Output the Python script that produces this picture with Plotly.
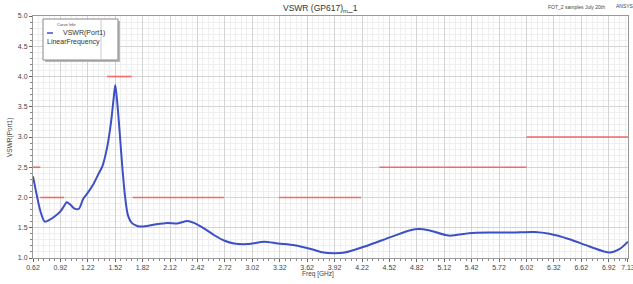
import plotly.graph_objects as go

# Measured VSWR curve
freq = [0.62, 0.66, 0.70, 0.75, 0.80, 0.86, 0.92, 0.96, 0.99, 1.03, 1.07, 1.12, 1.17, 1.22,
        1.28, 1.33, 1.38, 1.43, 1.47, 1.50, 1.52, 1.54, 1.57, 1.60, 1.63, 1.66, 1.70, 1.76,
        1.82, 1.94, 2.09, 2.20, 2.31, 2.38, 2.49, 2.60, 2.71, 2.82, 2.97, 3.15, 3.30, 3.48,
        3.66, 3.80, 3.92, 4.03, 4.25, 4.54, 4.75, 4.84, 4.95, 5.17, 5.39, 5.61, 5.86, 6.11,
        6.27, 6.49, 6.71, 6.93, 7.04, 7.13]
vswr = [2.35, 2.05, 1.78, 1.60, 1.63, 1.69, 1.77, 1.86, 1.92, 1.88, 1.82, 1.81, 1.98, 2.08,
        2.22, 2.37, 2.52, 2.82, 3.20, 3.60, 3.86, 3.60, 3.05, 2.45, 1.98, 1.70, 1.58, 1.53,
        1.52, 1.55, 1.58, 1.57, 1.61, 1.58, 1.49, 1.38, 1.29, 1.24, 1.23, 1.27, 1.24, 1.21,
        1.15, 1.09, 1.08, 1.09, 1.19, 1.35, 1.46, 1.48, 1.46, 1.37, 1.41, 1.42, 1.42, 1.43,
        1.40, 1.31, 1.19, 1.09, 1.15, 1.27]

# Spec limit segments
limit_start = [0.62, 0.70, 1.43, 1.71, 3.31, 4.41, 6.02]
limit_end = [0.70, 0.96, 1.70, 2.71, 4.21, 6.02, 7.13]
limit_value = [2.5, 2.0, 4.0, 2.0, 2.0, 2.5, 3.0]

# Axis ticks
x_tickvals = [0.62, 0.92, 1.22, 1.52, 1.82, 2.12, 2.42, 2.72, 3.02, 3.32, 3.62, 3.92, 4.22,
              4.52, 4.82, 5.12, 5.42, 5.72, 6.02, 6.32, 6.62, 6.92, 7.13]
x_ticktext = ["0.62", "0.92", "1.22", "1.52", "1.82", "2.12", "2.42", "2.72", "3.02", "3.32",
              "3.62", "3.92", "4.22", "4.52", "4.82", "5.12", "5.42", "5.72", "6.02", "6.32",
              "6.62", "6.92", "7.13"]
y_tickvals = [1.0, 1.5, 2.0, 2.5, 3.0, 3.5, 4.0, 4.5, 5.0]
y_ticktext = ["1.0", "1.5", "2.0", "2.5", "3.0", "3.5", "4.0", "4.5", "5.0"]

lx, ly = [], []
for s, e, v in zip(limit_start, limit_end, limit_value):
    lx += [s, e, None]
    ly += [v, v, None]

fig = go.Figure()
fig.add_trace(go.Scatter(x=lx, y=ly, mode="lines", line=dict(color="#f26a6a", width=1.6),
                         hoverinfo="skip", showlegend=False))
fig.add_trace(go.Scatter(x=freq, y=vswr, mode="lines", name="VSWR(Port1)",
                         line=dict(color="#3d50c6", width=2, shape="spline", smoothing=0.8),
                         showlegend=False))

W, H = 633, 284
L, R, T, B = 33, 5, 16, 26
pw, ph = W - L - R, H - T - B


def px(x):
    return (x - L) / pw


def py(y):
    return (H - B - y) / ph


font = "Liberation Sans, Arial, sans-serif"

fig.update_layout(
    width=W, height=H,
    margin=dict(l=L, r=R, t=T, b=B, autoexpand=False),
    paper_bgcolor="white", plot_bgcolor="white",
    font=dict(family=font, size=7, color="#333"),
    xaxis=dict(range=[0.62, 7.1305], tickvals=x_tickvals, ticktext=x_ticktext, automargin=False,
               ticklabeloverflow="allow",
               showgrid=True, gridcolor="#d4d4d4", gridwidth=1,
               ticks="outside", ticklen=3, tickcolor="#666",
               showline=True, linecolor="#999", mirror=True, zeroline=False,
               tickfont=dict(size=7, color="#444"),
               minor=dict(tick0=0.62, dtick=0.06, showgrid=True, gridcolor="#efefef",
                          ticks="outside", ticklen=2, tickcolor="#888")),
    yaxis=dict(range=[1.0, 5.0], tickvals=y_tickvals, ticktext=y_ticktext, automargin=False,
               showgrid=True, gridcolor="#d4d4d4", gridwidth=1,
               ticks="outside", ticklen=3, tickcolor="#666",
               showline=True, linecolor="#999", mirror=True, zeroline=False,
               tickfont=dict(size=7, color="#444"),
               minor=dict(tick0=1.0, dtick=0.1, showgrid=True, gridcolor="#efefef",
                          ticks="outside", ticklen=2, tickcolor="#888")),
)

# Axis titles
fig.add_annotation(text="Freq [GHz]", x=px(318), y=py(274), xref="paper", yref="paper",
                   showarrow=False, font=dict(size=6.5, color="#444"), xanchor="center", yanchor="middle")
fig.add_annotation(text="VSWR(Port1)", x=px(10), y=py(138), xref="paper", yref="paper", textangle=-90,
                   showarrow=False, font=dict(size=6.5, color="#444"), xanchor="center", yanchor="middle")

# Title and header notes
fig.add_annotation(text="VSWR (GP617)<sub>m</sub>_1", x=px(320), y=py(8), xref="paper", yref="paper",
                   showarrow=False, font=dict(size=8.5, color="#333"), xanchor="center", yanchor="middle")
fig.add_annotation(text="FOT_2 samples July 20th", x=px(576), y=py(7), xref="paper", yref="paper",
                   showarrow=False, font=dict(size=5, color="#444"), xanchor="center", yanchor="middle")
fig.add_annotation(text="ANSYS", x=px(614), y=py(6), xref="paper", yref="paper",
                   showarrow=False, font=dict(size=5, color="#444"), xanchor="left", yanchor="middle")

# Legend box (Curve Info)
fig.add_shape(type="rect", xref="paper", yref="paper", x0=px(45), x1=px(120), y0=py(62), y1=py(21),
              fillcolor="#b8b8b8", line=dict(width=0), layer="above")
fig.add_shape(type="rect", xref="paper", yref="paper", x0=px(43), x1=px(118), y0=py(60), y1=py(19),
              fillcolor="white", line=dict(color="#888", width=1), layer="above")
fig.add_shape(type="line", xref="paper", yref="paper", x0=px(101), x1=px(101), y0=py(60), y1=py(19),
              line=dict(color="#cccccc", width=1), layer="above")
fig.add_shape(type="line", xref="paper", yref="paper", x0=px(47), x1=px(53), y0=py(33), y1=py(33),
              line=dict(color="#3d50c6", width=1.5), layer="above")
fig.add_annotation(text="Curve Info", x=px(66), y=py(24), xref="paper", yref="paper",
                   showarrow=False, font=dict(size=4, color="#444"), xanchor="center", yanchor="middle")
fig.add_annotation(text="VSWR(Port1)", x=px(61), y=py(33), xref="paper", yref="paper",
                   showarrow=False, font=dict(size=7, color="#333"), xanchor="left", yanchor="middle")
fig.add_annotation(text="LinearFrequency", x=px(45), y=py(42), xref="paper", yref="paper",
                   showarrow=False, font=dict(size=7, color="#333"), xanchor="left", yanchor="middle")

fig.write_html("out.html", config={"displayModeBar": False},
               post_script="document.body.style.margin='0';document.body.style.overflow='hidden';")
